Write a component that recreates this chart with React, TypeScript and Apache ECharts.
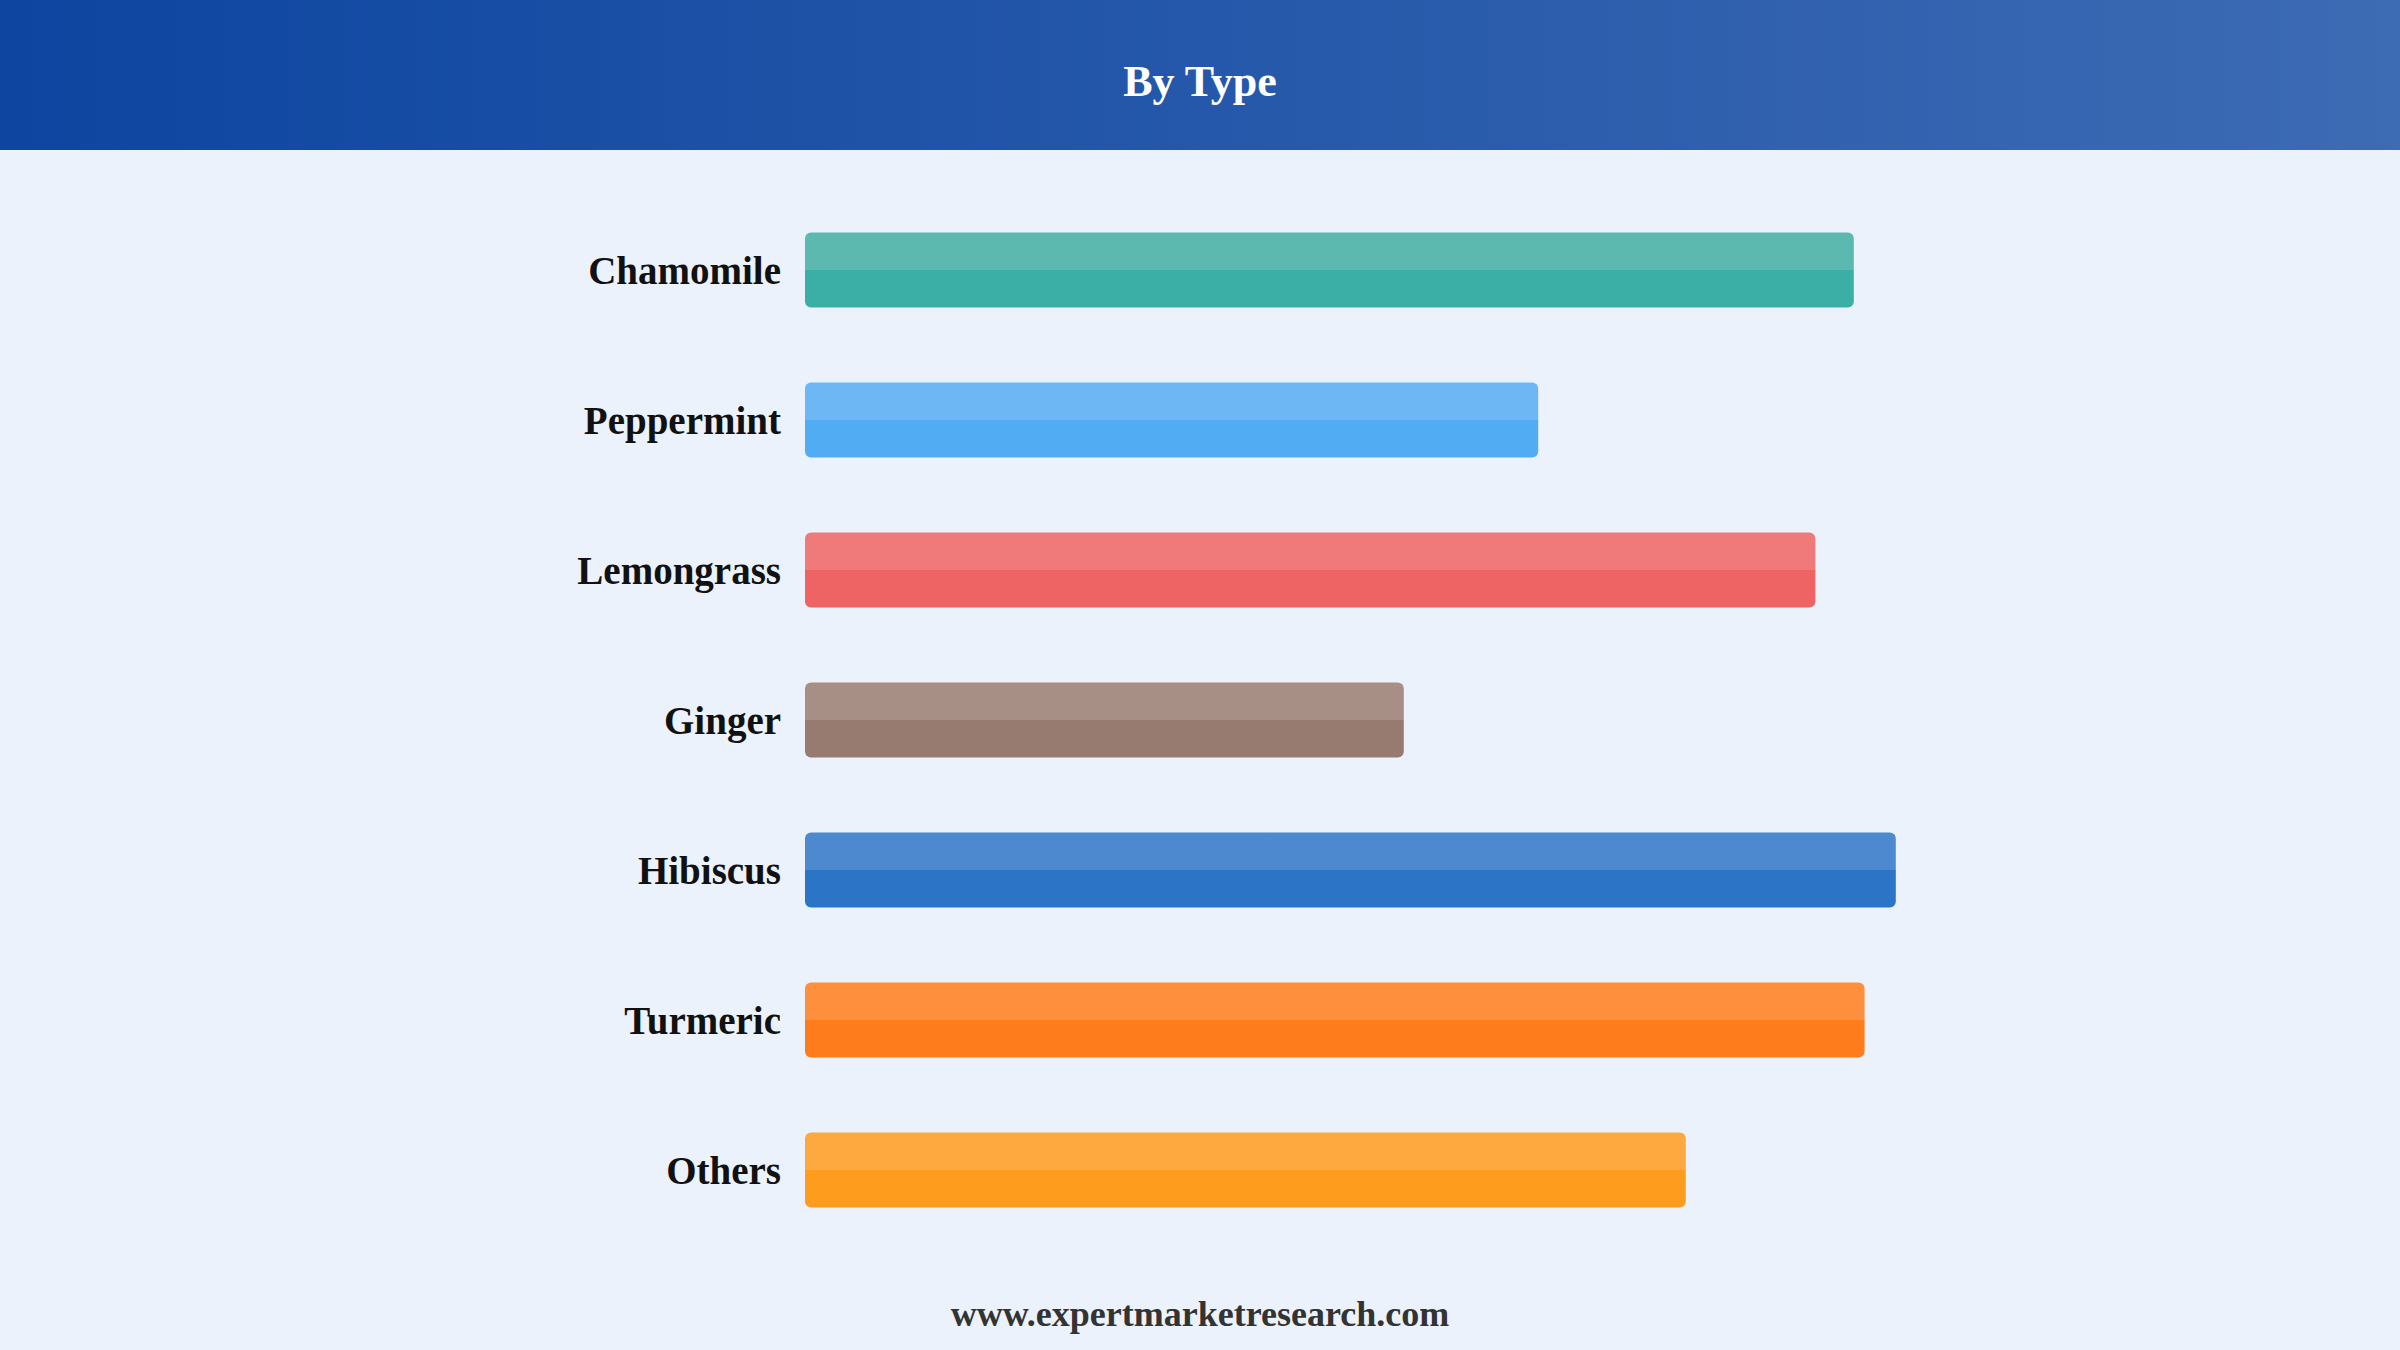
import { useEffect, useRef } from "react";
import * as echarts from "echarts";

const categories = ["Chamomile", "Peppermint", "Lemongrass", "Ginger", "Hibiscus", "Turmeric", "Others"];
const values = [87.4, 61.1, 84.2, 49.9, 90.9, 88.3, 73.4];
const darkColors = ["#3BAEA6", "#52ACF4", "#EE6363", "#977A70", "#2B74C6", "#FE7C1C", "#FE9C1E"];
const lightColors = ["#5BB9B0", "#6DB7F5", "#F07A7A", "#A88F86", "#4C89CE", "#FE8F3D", "#FEA940"];

const serif = "'Liberation Serif', 'Times New Roman', serif";

export default function App(): JSX.Element {
  const chartRef = useRef<HTMLDivElement>(null);

  useEffect(() => {
    const myChart = echarts.init(chartRef.current, null, { renderer: "svg" });
    const option = {
      animation: false,
      backgroundColor: "#EBF2FC",
      graphic: [
        {
          type: "rect",
          left: 0,
          top: 0,
          z: -1,
          shape: { width: 2400, height: 150 },
          style: {
            fill: new echarts.graphic.LinearGradient(0, 0, 1, 0, [
              { offset: 0, color: "#0D45A0" },
              { offset: 1, color: "#3D6BB4" },
            ]),
          },
        },
        {
          type: "text",
          left: "center",
          top: 1296,
          style: {
            text: "www.expertmarketresearch.com",
            font: `bold 36px ${serif}`,
            fill: "#333333",
          },
        },
      ],
      title: {
        text: "By Type",
        left: "center",
        top: 54,
        textStyle: {
          color: "#ffffff",
          fontFamily: serif,
          fontWeight: "bold",
          fontSize: 44,
        },
      },
      grid: { left: 805, right: 395, top: 195, bottom: 105, containLabel: false },
      xAxis: {
        type: "value",
        min: 0,
        max: 100,
        show: false,
      },
      yAxis: {
        type: "category",
        data: categories,
        inverse: true,
        axisLine: { show: false },
        axisTick: { show: false },
        splitLine: { show: false },
        axisLabel: {
          margin: 24,
          color: "#111111",
          fontFamily: serif,
          fontWeight: "bold",
          fontSize: 39,
        },
      },
      series: [
        {
          type: "bar",
          barWidth: 75,
          data: values.map((v, i) => ({
            value: v,
            itemStyle: {
              borderRadius: 6,
              color: new echarts.graphic.LinearGradient(0, 0, 0, 1, [
                { offset: 0, color: lightColors[i] },
                { offset: 0.5, color: lightColors[i] },
                { offset: 0.5, color: darkColors[i] },
                { offset: 1, color: darkColors[i] },
              ]),
            },
          })),
        },
      ],
    };
    myChart.setOption(option);
    return () => {
      myChart.dispose();
    };
  }, []);

  return (
    <div
      ref={chartRef}
      style={{ position: "fixed", left: 0, top: 0, width: "2400px", height: "1350px" }}
    ></div>
  );
}
